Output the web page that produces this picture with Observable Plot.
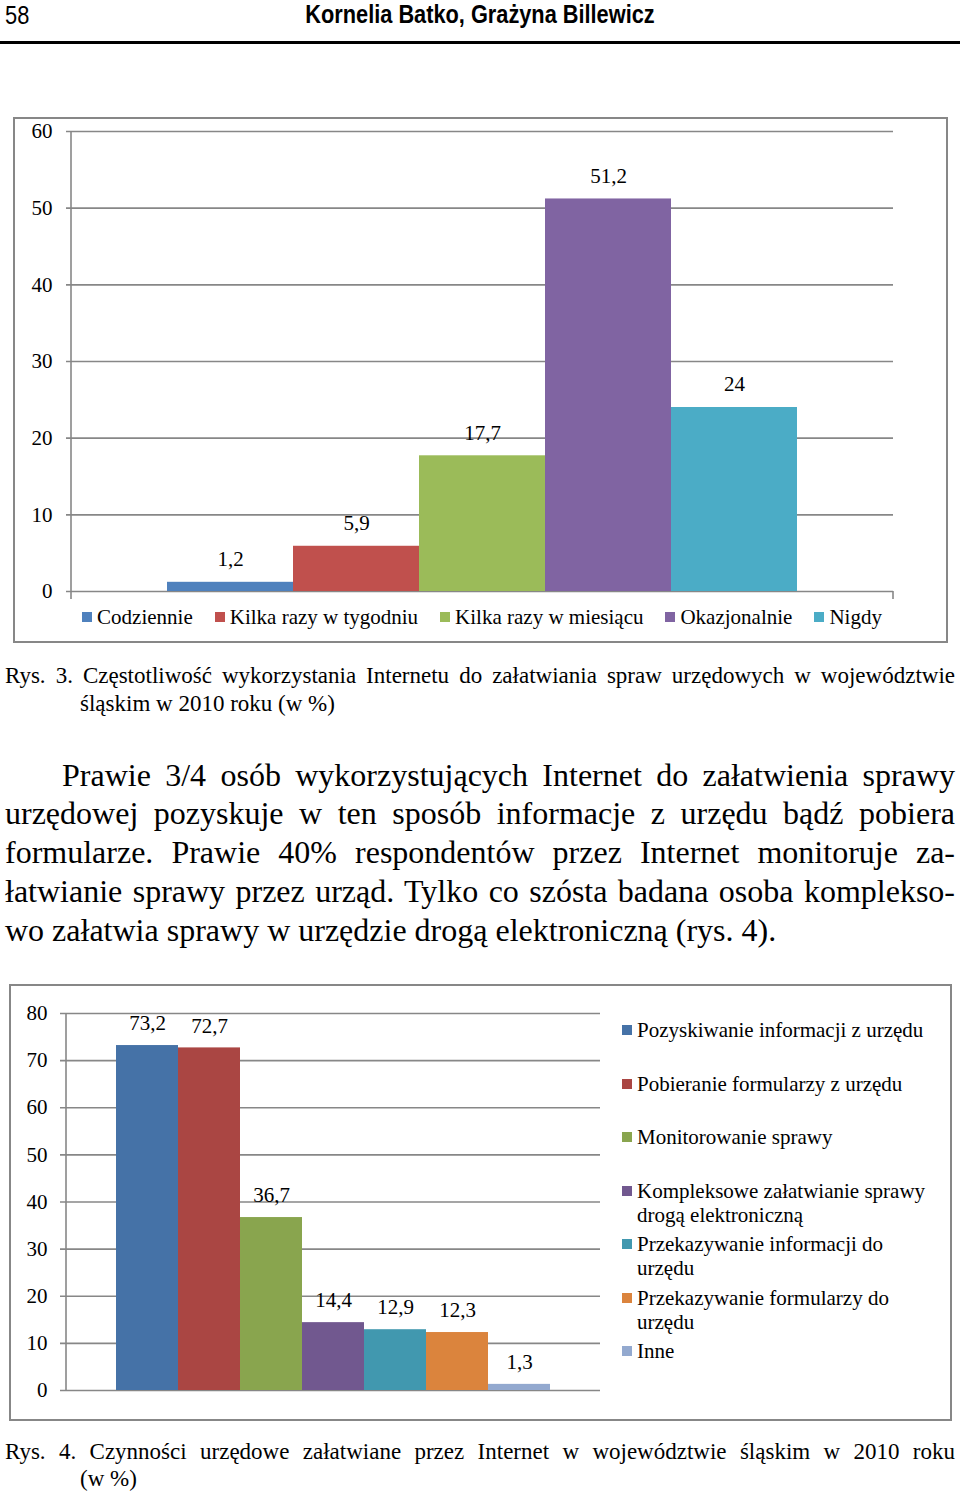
<!DOCTYPE html>
<html lang="pl">
<head>
<meta charset="utf-8">
<script src="https://cdn.jsdelivr.net/npm/d3@7"></script>
<script src="https://cdn.jsdelivr.net/npm/@observablehq/plot@0.6"></script>
<style>
  html, body { margin: 0; padding: 0; background: #fff; }
  #page { position: relative; width: 960px; height: 1494px; overflow: hidden; background: #fff;
          font-family: "Liberation Serif", "Times New Roman", serif; color: #000; }
  .abs { position: absolute; }
  .head { font-family: "Liberation Sans", Arial, sans-serif; white-space: nowrap; line-height: normal; }
  .rule { position: absolute; left: 0; top: 41px; width: 960px; height: 3px; background: #000; }
  .frame { position: absolute; box-sizing: border-box; border: 2px solid #878787; background: #fff; }
  .jl { text-align: justify; text-align-last: justify; }
  .leg1 { display: flex; justify-content: center; gap: 21px; font-size: 21px; line-height: 24px; white-space: nowrap; }
  .leg1 .it, .leg2 .it { display: flex; align-items: flex-start; }
  .sw { width: 10px; height: 10px; margin-top: 7px; margin-right: 5px; flex: none; }
  .leg2 { font-size: 21px; line-height: 24px; }
  .leg2 .it { height: 53.5px; }
  .leg2 .tx { width: 296px; }
  svg { position: absolute; left: 0; }
</style>
</head>
<body>
<div id="page"></div>
<script>
// ---------- data ----------
const pageNumber = "58";
const runningHead = "Kornelia Batko, Grażyna Billewicz";

const freqCategories = ["Codziennie", "Kilka razy w tygodniu", "Kilka razy w miesiącu", "Okazjonalnie", "Nigdy"];
const freqValues = [1.2, 5.9, 17.7, 51.2, 24];
const freqColors = ["#4F81BD", "#C0504D", "#9BBB59", "#8064A2", "#4BACC6"];
const freqTicks = [0, 10, 20, 30, 40, 50, 60];

const caption3 = ["Rys. 3. Częstotliwość wykorzystania Internetu do załatwiania spraw urzędowych w województwie",
                  "śląskim w 2010 roku (w %)"];

const paragraphLines = [
  "Prawie 3/4 osób wykorzystujących Internet do załatwienia sprawy",
  "urzędowej pozyskuje w ten sposób informacje z urzędu bądź pobiera",
  "formularze. Prawie 40% respondentów przez Internet monitoruje za-",
  "łatwianie sprawy przez urząd. Tylko co szósta badana osoba kompleksо-",
  "wo załatwia sprawy w urzędzie drogą elektroniczną (rys. 4)."
];

const taskCategories = ["Pozyskiwanie informacji z urzędu", "Pobieranie formularzy z urzędu", "Monitorowanie sprawy",
  "Kompleksowe załatwianie sprawy drogą elektroniczną", "Przekazywanie informacji do urzędu",
  "Przekazywanie formularzy do urzędu", "Inne"];
const taskValues = [73.2, 72.7, 36.7, 14.4, 12.9, 12.3, 1.3];
const taskColors = ["#4572A7", "#AA4643", "#89A54E", "#71588F", "#4198AF", "#DB843D", "#93A9CF"];
const taskTicks = [0, 10, 20, 30, 40, 50, 60, 70, 80];

const caption4 = ["Rys. 4. Czynności urzędowe załatwiane przez Internet w województwie śląskim w 2010 roku",
                  "(w %)"];

// ---------- helpers ----------
const gridColor = "#878787";
const serif = "'Liberation Serif', 'Times New Roman', serif";
const fmt = v => String(v).replace(".", ",");
const page = document.getElementById("page");

function el(tag, cls, css, text) {
  const e = document.createElement(tag);
  if (cls) e.className = cls;
  if (css) e.style.cssText = css;
  if (text != null) e.textContent = text;
  page.appendChild(e);
  return e;
}

function axisLines(ext) {
  return (index, scales, values, dims) => {
    const x0 = dims.marginLeft, x1 = dims.width - dims.marginRight;
    const yTop = dims.marginTop, y0 = dims.height - dims.marginBottom;
    const g = d3.create("svg:g").attr("stroke", gridColor).attr("stroke-width", 1.6).attr("fill", "none");
    g.append("line").attr("x1", x0).attr("x2", x0).attr("y1", yTop).attr("y2", y0 + ext);
    g.append("line").attr("x1", x1).attr("x2", x1).attr("y1", y0).attr("y2", y0 + ext);
    return g.node();
  };
}

// ---------- header ----------
el("div", "abs head", "left:5px;top:0;font-size:26px;transform:scaleX(0.84);transform-origin:0 0;", pageNumber);
el("div", "abs head", "left:0;width:960px;top:0;text-align:center;font-weight:bold;font-size:25px;transform:scaleX(0.87);transform-origin:480px 0;", runningHead);
el("div", "rule");

// ---------- chart 1 ----------
el("div", "frame", "left:13px;top:117px;width:935px;height:526px;");
const freqData = freqCategories.map((c, i) => ({category: c, value: freqValues[i]}));
const chart1 = Plot.plot({
  width: 960, height: 490,
  marginLeft: 71, marginRight: 67, marginTop: 13, marginBottom: 17,
  style: {background: "transparent", fontFamily: serif, fontSize: "21px", color: "#000", overflow: "visible"},
  x: {domain: freqCategories, paddingInner: 0, paddingOuter: 0.7535, axis: null},
  y: {domain: [0, 60], axis: null},
  color: {domain: freqCategories, range: freqColors},
  marks: [
    Plot.ruleY(freqTicks, {y: d => d, stroke: gridColor, strokeWidth: 1.6, insetLeft: -5}),
    Plot.text(freqTicks, {y: d => d, text: d => String(d), frameAnchor: "left", textAnchor: "end", dx: -19, fontSize: 21, fill: "#000"}),
    Plot.barY(freqData, {x: "category", y: "value", fill: "category"}),
    axisLines(8),
    Plot.text(freqData, {x: "category", y: "value", text: d => fmt(d.value), dy: -23, fontSize: 21, fill: "#000"})
  ]
});
chart1.style.top = "118px";
page.appendChild(chart1);

const leg1 = el("div", "abs leg1", "left:71px;width:822px;top:605px;gap:22px;");
freqCategories.forEach((c, i) => {
  const it = document.createElement("div"); it.className = "it";
  const sw = document.createElement("span"); sw.className = "sw"; sw.style.background = freqColors[i];
  const tx = document.createElement("span"); tx.textContent = c;
  it.append(sw, tx); leg1.appendChild(it);
});

// ---------- caption 3 ----------
el("div", "abs jl", "left:5px;width:950px;top:662px;font-size:23px;line-height:28px;", caption3[0]);
el("div", "abs", "left:80px;top:690px;font-size:23px;line-height:28px;white-space:nowrap;", caption3[1]);

// ---------- paragraph ----------
paragraphLines.forEach((t, i) => {
  const last = i === paragraphLines.length - 1;
  const indent = i === 0 ? 57 : 0;
  el("div", last ? "abs" : "abs jl",
     `left:${5 + indent}px;width:${950 - indent}px;top:${755.5 + i * 38.8}px;font-size:32px;line-height:38.8px;white-space:${last ? "nowrap" : "normal"};`, t);
});

// ---------- chart 2 ----------
el("div", "frame", "left:9px;top:984px;width:943px;height:437px;");
const taskData = taskCategories.map((c, i) => ({category: c, value: taskValues[i]}));
const chart2 = Plot.plot({
  width: 620, height: 436,
  marginLeft: 66, marginRight: 20, marginTop: 29, marginBottom: 30,
  style: {background: "transparent", fontFamily: serif, fontSize: "21px", color: "#000", overflow: "visible"},
  x: {domain: taskCategories, paddingInner: 0, paddingOuter: 0.75, axis: null},
  y: {domain: [0, 80], axis: null},
  color: {domain: taskCategories, range: taskColors},
  marks: [
    Plot.ruleY(taskTicks, {y: d => d, stroke: gridColor, strokeWidth: 1.6, insetLeft: -6}),
    Plot.text(taskTicks, {y: d => d, text: d => String(d), frameAnchor: "left", textAnchor: "end", dx: -19, fontSize: 21, fill: "#000"}),
    Plot.barY(taskData, {x: "category", y: "value", fill: "category"}),
    axisLines(0),
    Plot.text(taskData, {x: "category", y: "value", text: d => fmt(d.value), dy: -22, fontSize: 21, fill: "#000"})
  ]
});
chart2.style.top = "984px";
page.appendChild(chart2);

const leg2 = el("div", "abs leg2", "left:622px;top:1018px;");
taskCategories.forEach((c, i) => {
  const it = document.createElement("div"); it.className = "it";
  const sw = document.createElement("span"); sw.className = "sw"; sw.style.background = taskColors[i];
  const tx = document.createElement("span"); tx.className = "tx"; tx.textContent = c;
  it.append(sw, tx); leg2.appendChild(it);
});

// ---------- caption 4 ----------
el("div", "abs jl", "left:5px;width:950px;top:1438px;font-size:23px;line-height:28px;", caption4[0]);
el("div", "abs", "left:80px;top:1465px;font-size:23px;line-height:28px;white-space:nowrap;", caption4[1]);
</script>
</body>
</html>
